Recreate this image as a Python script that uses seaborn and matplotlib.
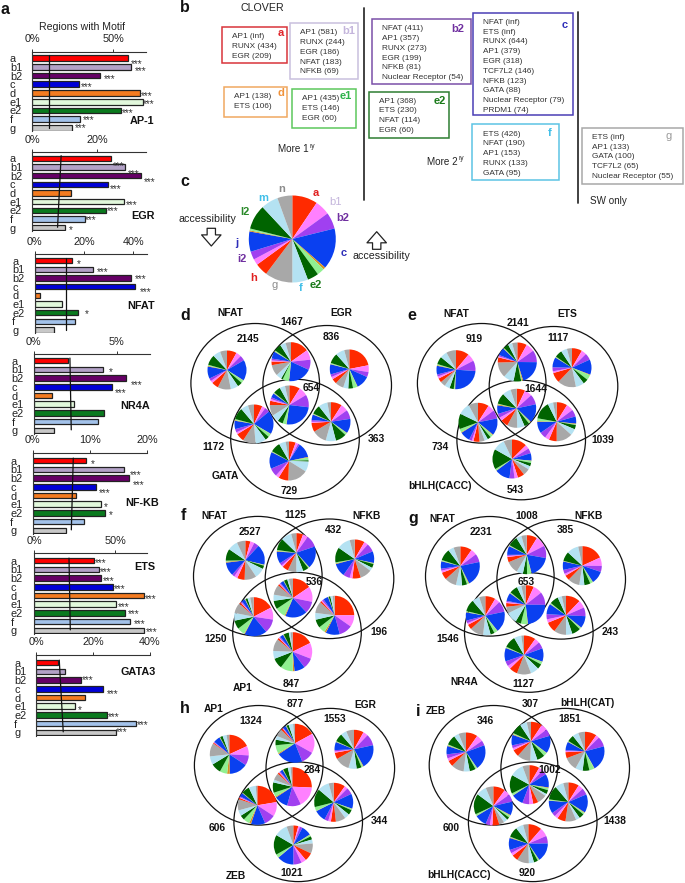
import matplotlib
matplotlib.use("Agg")
import matplotlib.pyplot as plt
from matplotlib.patches import Ellipse, Rectangle, FancyArrowPatch
import pandas as pd
import seaborn as sns

sns.set_theme(style="white")
plt.rcParams['font.family'] = ['Liberation Sans', 'DejaVu Sans']
W, H = 685, 883
fig = plt.figure(figsize=(W / 100, H / 100), dpi=100, facecolor='white')


def axes_px(x0, y0, x1, y1, z=1):
    ax = fig.add_axes([x0 / W, 1 - y1 / H, (x1 - x0) / W, (y1 - y0) / H], zorder=z)
    ax.patch.set_alpha(0)
    return ax


def overlay(z):
    ax = axes_px(0, 0, W, H, z)
    ax.set_xlim(0, W)
    ax.set_ylim(H, 0)
    ax.axis('off')
    return ax


# ---------- panel a data ----------
categories = ['a', 'b1', 'b2', 'c', 'd', 'e1', 'e2', 'f', 'g']
bar_colors = ['#FF0000', '#B3A2C7', '#660066', '#0000D8', '#F47B20',
              '#E2F8DC', '#0A7A1E', '#A3C2EA', '#C8C8C8']

ap1_values = [58.8, 60.9, 41.8, 28.6, 66.3, 68.3, 54.5, 29.6, 24.7]
egr_values = [24.2, 28.7, 33.7, 23.4, 11.9, 28.4, 22.9, 16.3, 10.2]
nfat_values = [15.1, 23.5, 38.9, 40.7, 2.2, 10.9, 17.7, 16.2, 7.7]
nr4a_values = [2.04, 4.18, 5.58, 4.7, 1.08, 2.4, 4.24, 3.88, 1.22]
nfkb_values = [9.27, 16.0, 16.8, 11.0, 7.64, 12.0, 12.7, 8.92, 5.89]
ets_values = [36.6, 39.7, 41.2, 48.4, 67.5, 50.2, 55.8, 59.3, 67.5]
gata3_values = [7.5, 10.2, 15.6, 23.4, 17.3, 13.6, 24.8, 35.2, 28.0]

ap1_stars = ['***'] * 9
egr_stars = ['***', '***', '***', '***', '', '***', '***', '***', '*']
nfat_stars = ['*', '***', '***', '***', '', '', '*', '', '']
nr4a_stars = ['', '*', '***', '***', '', '', '', '', '']
nfkb_stars = ['*', '***', '***', '***', '', '*', '*', '', '']
ets_stars = ['***'] * 9
gata3_stars = ['', '', '***', '***', '', '*', '***', '***', '***']

# background (genome) percentage read at top and bottom of each guide line
ap1_bg = [10.1, 10.1]
egr_bg = [8.9, 7.8]
nfat_bg = [12.6, 12.6]
nr4a_bg = [2.18, 2.26]
nfkb_bg = [7.1, 6.76]
ets_bg = [21.4, 22.2]
gata3_bg = [8.1, 9.5]

# layout: x0, xmax px, xmax value, axis y, first bar y, last bar y, label x, name, name right x, name y
bar_panels = [
    dict(name='AP-1', v=ap1_values, s=ap1_stars, bg=ap1_bg, x0=32.3, x1=145.7, xmax=70, ay=52, y0=58, y1=128,
         lx=10, ticks=[0, 50], nx=154, ny=121,
         dx=[3.3, 3.7, 4, 2.3, 1.5, 0, 1, 2.3, 2.3], dy=[3.6, 2, 1, 0, .7, 0, 0, -1.3, -2.3]),
    dict(name='EGR', v=egr_values, s=egr_stars, bg=egr_bg, x0=32.3, x1=145.7, xmax=35, ay=152.3, y0=158.3, y1=227.7,
         lx=10, ticks=[0, 20], nx=155, ny=216,
         dx=[2.3, 2.7, 2, 1.7, 0, 1.3, .7, 0, 3.7], dy=[5, 4.3, 4, 2.3, 0, .7, -1.7, -1, 0]),
    dict(name='NFAT', v=nfat_values, s=nfat_stars, bg=nfat_bg, x0=34.7, x1=146.7, xmax=45.4, ay=254.3, y0=260.7, y1=330,
         lx=12, ticks=[0, 20, 40], nx=154.5, ny=306,
         dx=[5, 4.3, 4.3, 5, 0, 0, 7, 0, 0], dy=[1, 0, -1.3, 2.7, 0, 0, -1, 0, 0]),
    dict(name='NR4A', v=nr4a_values, s=nr4a_stars, bg=nr4a_bg, x0=33.7, x1=150, xmax=7, ay=354.3, y0=360.7, y1=430.3,
         lx=11.7, ticks=[0, 5], nx=150, ny=406,
         dx=[0, 5.7, 4.3, 2.7, 0, 0, 0, 0, 0], dy=[0, 0, 4.3, 3.3, 0, 0, 0, 0, 0]),
    dict(name='NF-KB', v=nfkb_values, s=nfkb_stars, bg=nfkb_bg, x0=32.7, x1=147, xmax=20, ay=452.7, y0=460.7, y1=530.3,
         lx=10, ticks=[0, 10, 20], nx=159, ny=503,
         dx=[5.3, 5.7, 4.3, 3.7, 0, 2.7, 3.3, 0, 0], dy=[1, 3.3, 4.3, 3.3, 0, 0, 0, 0, 0]),
    dict(name='ETS', v=ets_values, s=ets_stars, bg=ets_bg, x0=34.3, x1=147, xmax=69.5, ay=553.3, y0=560.7, y1=630.3,
         lx=10.7, ticks=[0, 50], nx=155, ny=567,
         dx=[1.3, .7, 2, 1, 1.3, 2, 3, 3.3, 1.7], dy=[0, 0, 0, 0, .7, 0, -1, 0, -1]),
    dict(name='GATA3', v=gata3_values, s=gata3_stars, bg=gata3_bg, x0=36.3, x1=149.7, xmax=40, ay=655, y0=662.7, y1=732.3,
         lx=14.3, ticks=[0, 20, 40], nx=156, ny=672,
         dx=[0, 0, 1, 4, 0, 2.7, 1.3, .7, .3], dy=[0, 0, -2.3, 2.7, 0, 1, 0, -1.3, -2.3]),
]

top = overlay(5)
under = overlay(0)

for p in bar_panels:
    step = (p['y1'] - p['y0']) / 8
    bottom_px = p['y1'] + 3.2
    ax = axes_px(p['x0'], p['ay'], p['x1'], bottom_px, 1)
    df = pd.DataFrame({'cat': categories, 'val': p['v']})
    sns.barplot(data=df, y='cat', x='val', hue='cat', palette=bar_colors, order=categories,
                hue_order=categories, legend=False, width=0.64, ax=ax,
                edgecolor='#222222', linewidth=0.9, saturation=1)
    ax.set_xlim(0, p['xmax'])
    ax.set_ylim(8 + (bottom_px - p['y1']) / step, -(p['y0'] - p['ay']) / step)
    ax.set_xlabel('')
    ax.set_ylabel('')
    ax.xaxis.tick_top()
    ax.set_xticks(p['ticks'])
    ax.set_xticklabels([f'{t}%' for t in p['ticks']], fontsize=7.8, color='#222222')
    ax.tick_params(axis='x', length=2, width=0.7, pad=3.5, color='#333333', top=True, bottom=False)
    ax.tick_params(axis='y', length=0, pad=(p['x0'] - p['lx']) * 0.72)
    for lab in ax.get_yticklabels():
        lab.set_ha('left')
        lab.set_fontsize(7.8)
        lab.set_color('#222222')
    for side in ('right', 'bottom'):
        ax.spines[side].set_visible(False)
    for side in ('top', 'left'):
        ax.spines[side].set_visible(True)
        ax.spines[side].set_color('#333333')
        ax.spines[side].set_linewidth(0.8)
    ax.plot(p['bg'], [-0.3, 7.95], color='#111111', lw=0.9, zorder=5)
    for i, (val, st) in enumerate(zip(p['v'], p['s'])):
        if st:
            ax.annotate(st, xy=(val, i), xytext=(p['dx'][i] * 0.72, -(p['dy'][i] + 2.5) * 0.72),
                        textcoords='offset points', ha='left', va='center', fontsize=7.2,
                        color='#333333', annotation_clip=False)
    top.text(p['nx'], p['ny'], p['name'], ha='right', va='center', fontsize=7.8, fontweight='bold', color='#111111')

top.text(82.5, 26.7, 'Regions with Motif', ha='center', va='center', fontsize=7.6, color='#222222')

# ---------- panel b ----------
boxes = [
    ('a', '#D9343A', '#E0242A', (222.3, 26.7, 287.3, 63.3), (232.3, 36, 10), (281, 33),
     ['AP1 (inf)', 'RUNX (434)', 'EGR (209)']),
    ('b1', '#C9C0DE', '#C4B5DC', (290.3, 23.3, 357.7, 79), (300, 32.7, 9.8), (349, 30.7),
     ['AP1 (581)', 'RUNX (244)', 'EGR (186)', 'NFAT (183)', 'NFKB (69)']),
    ('b2', '#7B4FA8', '#7030A0', (371.7, 19, 471.3, 84.3), (381.7, 28.7, 9.8), (458, 28.7),
     ['NFAT (411)', 'AP1 (357)', 'RUNX (273)', 'EGR (199)', 'NFKB (81)', 'Nuclear Receptor (54)']),
    ('c', '#4A3FB5', '#2E2EB8', (473.3, 12.7, 573, 115), (483.3, 22.3, 9.8), (564.7, 25),
     ['NFAT (inf)', 'ETS (inf)', 'RUNX (644)', 'AP1 (379)', 'EGR (318)', 'TCF7L2 (146)', 'NFKB (123)',
      'GATA (88)', 'Nuclear Receptor (79)', 'PRDM1 (74)']),
    ('d', '#F0A860', '#F0923A', (224.3, 87.3, 287.3, 117.3), (234, 97, 10), (281, 93.3),
     ['AP1 (138)', 'ETS (106)']),
    ('e1', '#5CC85C', '#2CB34A', (292.3, 88.7, 356, 128.3), (302.3, 98.7, 10), (346, 95.7),
     ['AP1 (435)', 'ETS (146)', 'EGR (60)']),
    ('e2', '#2E7D32', '#1A7A1A', (369.3, 91.7, 448.7, 137.7), (379, 101.3, 9.7), (440, 100.7),
     ['AP1 (368)', 'ETS (230)', 'NFAT (114)', 'EGR (60)']),
    ('f', '#5CC4E4', '#40BFE8', (472.3, 124.3, 559.3, 180.3), (482.7, 134, 9.8), (550, 133.3),
     ['ETS (426)', 'NFAT (190)', 'AP1 (153)', 'RUNX (133)', 'GATA (95)']),
    ('g', '#A8A8A8', '#9A9A9A', (581.7, 127.7, 682.7, 184), (591.7, 137.3, 9.8), (669, 136),
     ['ETS (inf)', 'AP1 (133)', 'GATA (100)', 'TCF7L2 (65)', 'Nuclear Receptor (55)']),
]
for name, ec, tc, (x0, y0, x1, y1), (tx, ty, dy), (lx, ly), lines in boxes:
    under.add_patch(Rectangle((x0, y0), x1 - x0, y1 - y0, fc='white', ec=ec, lw=1.1))
    for i, line in enumerate(lines):
        top.text(tx, ty + i * dy, line, ha='left', va='center', fontsize=5.95, color='#333333')
    top.text(lx, ly, name, ha='center', va='center', fontsize=8, color=tc,
             fontweight='normal' if name == 'g' else 'bold')

under.plot([364, 364], [8, 200], color='#333333', lw=1.3)
under.plot([577.7, 577.7], [12, 203], color='#333333', lw=1.3)
top.text(241, 8.3, 'CLOVER', ha='left', va='center', fontsize=7.7, color='#222222')
top.text(278, 149, 'More 1', ha='left', va='center', fontsize=7.1, color='#222222')
top.text(309.5, 146, 'ry', ha='left', va='center', fontsize=4.8, color='#222222')
top.text(426.7, 161.7, 'More 2', ha='left', va='center', fontsize=7.1, color='#222222')
top.text(458.5, 158.7, 'ry', ha='left', va='center', fontsize=4.8, color='#222222')
top.text(590, 201, 'SW only', ha='left', va='center', fontsize=7.1, color='#222222')

# ---------- panel letters ----------
for s, x, y in [('a', 5, 10), ('b', 185, 8), ('c', 185, 182), ('d', 185, 315), ('e', 411.7, 315),
                ('f', 183.3, 515.7), ('g', 413.3, 518.3), ('h', 185, 708.3), ('i', 418, 711)]:
    top.text(x, y, s, ha='center', va='center', fontsize=11.5, fontweight='bold', color='#111111')

# ---------- pies ----------
slice_colors = ['#FF2A00', '#FF80FF', '#A040F0', '#0A40F0', '#D89020', '#90F090', '#006400', '#B4E2F2', '#A8A8A8',
                '#FF2A00', '#FF80FF', '#A040F0', '#0A40F0', '#D89020', '#90F090', '#006400', '#B4E2F2', '#A8A8A8']

main_pie = [34, 20, 22, 55, 3, 10, 15, 21, 37, 17, 8, 11, 27, 1.5, 2.5, 33, 23, 20]

d_pies = [
    [28, 15, 15, 60, 1, 8, 14, 22, 38, 20, 7, 8, 35, 2, 3, 30, 22, 20],
    [50, 27, 28, 65, 1, 17, 5, 15, 30, 10, 3, 5, 20, 1, 3, 20, 15, 15],
    [78, 20, 15, 40, 1, 13, 14, 15, 25, 15, 7, 8, 30, 1, 3, 30, 26, 15],
    [30, 25, 35, 85, 1, 10, 15, 20, 30, 12, 5, 5, 12, 1, 2, 20, 15, 12],
    [25, 10, 15, 70, 1, 10, 12, 32, 38, 25, 6, 10, 25, 2, 3, 35, 22, 18],
    [30, 20, 25, 40, 1, 6, 30, 28, 40, 25, 3, 5, 15, 1, 2, 25, 25, 10],
    [20, 8, 5, 45, 2, 8, 4, 30, 60, 30, 10, 25, 50, 1, 2, 30, 20, 10],
]
e_pies = [
    [38, 22, 30, 85, 1, 3, 12, 15, 15, 12, 6, 6, 25, 2, 3, 22, 20, 28],
    [28, 25, 35, 70, 3, 3, 22, 30, 45, 15, 3, 4, 22, 1, 2, 15, 12, 15],
    [30, 15, 20, 45, 2, 15, 15, 25, 55, 30, 5, 12, 30, 1, 2, 22, 18, 15],
    [25, 22, 30, 55, 2, 5, 15, 22, 30, 22, 10, 12, 25, 3, 2, 32, 25, 18],
    [32, 20, 25, 50, 2, 8, 10, 10, 15, 18, 5, 8, 30, 2, 10, 45, 35, 28],
    [30, 20, 20, 20, 2, 2, 12, 18, 45, 22, 12, 18, 32, 2, 8, 50, 15, 10],
    [45, 12, 15, 22, 1, 6, 10, 10, 20, 20, 10, 15, 45, 1, 5, 60, 35, 25],
]
f_pies = [
    [15, 12, 15, 60, 1, 2, 10, 30, 35, 22, 10, 8, 40, 3, 3, 35, 30, 25],
    [20, 15, 35, 65, 1, 3, 17, 20, 25, 18, 5, 8, 35, 2, 3, 35, 30, 15],
    [30, 12, 25, 35, 1, 2, 12, 10, 35, 25, 8, 20, 40, 2, 3, 45, 40, 15],
    [55, 45, 35, 65, 3, 30, 25, 18, 30, 5, 2, 3, 10, 1, 1, 10, 5, 12],
    [60, 35, 40, 65, 2, 22, 25, 22, 30, 5, 2, 3, 10, 1, 1, 6, 8, 10],
    [90, 35, 40, 42, 5, 20, 25, 20, 35, 5, 3, 5, 15, 1, 1, 5, 7, 6],
    [60, 45, 30, 30, 5, 35, 30, 22, 35, 5, 2, 3, 10, 1, 1, 15, 5, 6],
]
g_pies = [
    [35, 18, 25, 75, 2, 5, 15, 18, 35, 22, 6, 6, 22, 1, 3, 35, 17, 20],
    [30, 30, 35, 62, 1, 12, 12, 18, 35, 15, 3, 3, 25, 1, 2, 28, 15, 15],
    [65, 25, 18, 38, 1, 8, 18, 15, 35, 15, 6, 12, 25, 1, 1, 28, 35, 12],
    [22, 25, 35, 75, 1, 18, 15, 30, 18, 10, 3, 3, 22, 1, 2, 22, 12, 12],
    [30, 15, 32, 62, 1, 10, 12, 22, 40, 15, 5, 8, 24, 1, 3, 35, 22, 18],
    [42, 22, 25, 35, 1, 5, 25, 18, 35, 30, 10, 15, 30, 1, 3, 25, 12, 12],
    [35, 15, 20, 40, 1, 8, 15, 25, 42, 25, 10, 15, 40, 1, 3, 35, 22, 8],
]
h_pies = [
    [65, 28, 30, 55, 8, 22, 30, 25, 40, 3, 1, 2, 20, 1, 1, 8, 12, 8],
    [55, 52, 35, 70, 3, 22, 15, 10, 20, 5, 1, 2, 8, 1, 1, 6, 12, 5],
    [30, 15, 35, 75, 2, 5, 15, 25, 45, 20, 4, 4, 25, 1, 2, 25, 18, 24],
    [90, 60, 40, 40, 3, 12, 30, 8, 20, 5, 2, 3, 8, 1, 1, 14, 8, 5],
    [85, 45, 35, 45, 6, 20, 15, 18, 35, 5, 2, 3, 12, 1, 1, 25, 22, 5],
    [35, 10, 20, 45, 1, 4, 15, 15, 30, 15, 8, 12, 35, 1, 12, 55, 35, 15],
    [15, 5, 8, 30, 1, 5, 10, 12, 30, 25, 15, 25, 50, 1, 10, 60, 40, 20],
]
i_pies = [
    [35, 20, 15, 75, 1, 5, 18, 18, 38, 18, 8, 12, 25, 2, 3, 30, 15, 22],
    [32, 18, 20, 50, 1, 10, 22, 20, 38, 20, 6, 8, 30, 2, 3, 30, 20, 12],
    [35, 10, 30, 75, 1, 15, 20, 22, 40, 18, 3, 3, 25, 1, 2, 20, 18, 20],
    [30, 12, 15, 40, 2, 6, 12, 6, 28, 15, 12, 20, 35, 1, 6, 55, 40, 20],
    [35, 18, 22, 40, 2, 6, 8, 12, 15, 20, 8, 12, 35, 1, 5, 60, 30, 22],
    [32, 15, 20, 55, 2, 5, 15, 12, 32, 25, 10, 12, 38, 1, 3, 42, 25, 15],
    [40, 25, 22, 55, 1, 4, 12, 15, 35, 18, 8, 10, 35, 2, 2, 30, 22, 15],
]


def draw_pie(shares, cx, cy, r):
    ax = axes_px(cx - r, cy - r, cx + r, cy + r, 3)
    ax.pie(shares, colors=slice_colors, startangle=90, counterclock=False, radius=1,
           wedgeprops=dict(linewidth=0, edgecolor='none'))
    ax.set_xlim(-1, 1)
    ax.set_ylim(-1, 1)


draw_pie(main_pie, 292.3, 239, 43.5)
for s, col, x, y, w in [('a', '#E02020', 315.3, 192.7, 'bold'), ('b1', '#C4B5DC', 336, 202.3, 'normal'),
                        ('b2', '#7030A0', 343, 217.7, 'bold'), ('c', '#2E2EB8', 343.7, 252.7, 'bold'),
                        ('e2', '#1A7A1A', 316, 284.7, 'bold'), ('f', '#40BFE8', 301, 287.7, 'bold'),
                        ('g', '#8C8C8C', 275, 285, 'normal'), ('h', '#E02020', 253.3, 277.7, 'bold'),
                        ('i2', '#7030A0', 242.3, 258.7, 'bold'), ('j', '#2E2EB8', 236.7, 243.3, 'bold'),
                        ('l2', '#2A8A2A', 245, 211.7, 'bold'), ('m', '#40BFE8', 263.7, 198.3, 'bold'),
                        ('n', '#8C8C8C', 282, 189, 'bold')]:
    top.text(x, y, s, ha='center', va='center', fontsize=8, color=col, fontweight=w)
top.text(207.3, 218.7, 'accessibility', ha='center', va='center', fontsize=7.7, color='#222222')
top.text(381.7, 256.3, 'accessibility', ha='center', va='center', fontsize=7.7, color='#222222')
for ya, yb, xa in [(228.3, 246, 211.3), (249.3, 231.7, 376.7)]:
    top.add_patch(FancyArrowPatch((xa, ya), (xa, yb), arrowstyle='simple,head_length=8,head_width=14,tail_width=6',
                                  mutation_scale=1, fc='white', ec='#222222', lw=0.9, shrinkA=0, shrinkB=0))

# ---------- venn panels ----------
RX, RY = 64.3, 59.8
venns = [
    dict(circles=[(255.2, 383.3), (327.2, 385.3), (295, 439)], pies=d_pies,
         centers=[(227, 370), (291, 361.7), (349.3, 369), (289.3, 405), (254, 424), (331, 421.7), (289, 461)],
         labels=[('NFAT', 230, 313.3), ('EGR', 341, 313.3), ('1467', 292.3, 322), ('2145', 247.7, 339),
                 ('836', 331.3, 337.3), ('654', 311.3, 388), ('1172', 213.3, 446.7), ('363', 376.7, 439.3),
                 ('GATA', 225, 475.7), ('729', 289, 490.7)]),
    dict(circles=[(481.7, 383.3), (553.5, 386.3), (521.2, 440)], pies=e_pies,
         centers=[(456, 369.7), (517.3, 362), (572, 367.7), (516.7, 408.3), (478, 422.3), (556.7, 421.7), (512, 459)],
         labels=[('NFAT', 456.7, 313.7), ('ETS', 567, 314), ('2141', 518.3, 322.7), ('919', 473.7, 339.3),
                 ('1117', 557.7, 337.7), ('1644', 535.7, 388.7), ('734', 440, 446.7), ('1039', 603, 440),
                 ('bHLH(CACC)', 440, 486), ('543', 515.3, 490)]),
    dict(circles=[(257.8, 576.2), (329.5, 578.8), (297, 632.2)], pies=f_pies,
         centers=[(245.3, 560.3), (296.3, 552.7), (354.7, 559), (293, 598), (253.7, 616.7), (334.7, 615.3), (292.7, 651.7)],
         labels=[('NFAT', 214, 516.3), ('NFKB', 366.7, 516.3), ('1125', 295, 515.3), ('2527', 250, 532),
                 ('432', 333.7, 530.3), ('536', 314, 581.7), ('1250', 216, 639.3), ('196', 379, 632.3),
                 ('AP1', 243, 688.3), ('847', 291, 684)]),
    dict(circles=[(489.8, 576.3), (561.2, 579.3), (528.8, 632.5)], pies=g_pies,
         centers=[(460.3, 566), (526.7, 554.7), (582.3, 565.7), (525.7, 604.7), (485.3, 615.7), (566, 615.3), (524, 655)],
         labels=[('NFAT', 442.7, 519), ('NFKB', 588.3, 515.7), ('1008', 526.7, 515.7), ('2231', 481, 532.3),
                 ('385', 565.3, 530), ('653', 526, 581.7), ('1546', 447.7, 639.3), ('243', 610.3, 632.3),
                 ('NR4A', 464.3, 682.3), ('1127', 523.3, 684.3)]),
    dict(circles=[(258.7, 765.3), (330.3, 768.2), (298.2, 821.8)], pies=h_pies,
         centers=[(229.3, 754.3), (295, 743.3), (354, 749.3), (292.3, 786.7), (257.3, 805.3), (333.7, 802.3), (293.3, 845)],
         labels=[('AP1', 213.3, 709.3), ('EGR', 365.3, 704.7), ('877', 295.3, 704.3), ('1324', 251, 721.3),
                 ('1553', 335, 719.3), ('284', 311.7, 770.3), ('606', 216.7, 828.3), ('344', 379.7, 821.3),
                 ('ZEB', 235.7, 876), ('1021', 292, 873)]),
    dict(circles=[(493.5, 765.3), (565.2, 768.2), (532.7, 821.8)], pies=i_pies,
         centers=[(466, 752), (531, 741.3), (585, 751.3), (529.3, 784.7), (493.3, 806), (568.3, 802), (528.3, 843.7)],
         labels=[('ZEB', 435.7, 711), ('bHLH(CAT)', 587.7, 703), ('307', 530, 704.3), ('346', 485.7, 721),
                 ('1851', 569.3, 719.3), ('1002', 549.3, 770.3), ('600', 451.3, 828.3), ('1438', 614.7, 821.3),
                 ('bHLH(CACC)', 458.7, 875), ('920', 526.7, 873)]),
]
for v in venns:
    for cx, cy in v['circles']:
        under.add_patch(Ellipse((cx, cy), 2 * RX, 2 * RY, fc='none', ec='#111111', lw=0.9))
    for shares, (cx, cy) in zip(v['pies'], v['centers']):
        draw_pie(shares, cx, cy, 19.5)
    for s, x, y in v['labels']:
        top.text(x, y, s, ha='center', va='center', fontsize=7.4, fontweight='bold', color='#111111')

fig.savefig('out.png', dpi=100, facecolor='white')
